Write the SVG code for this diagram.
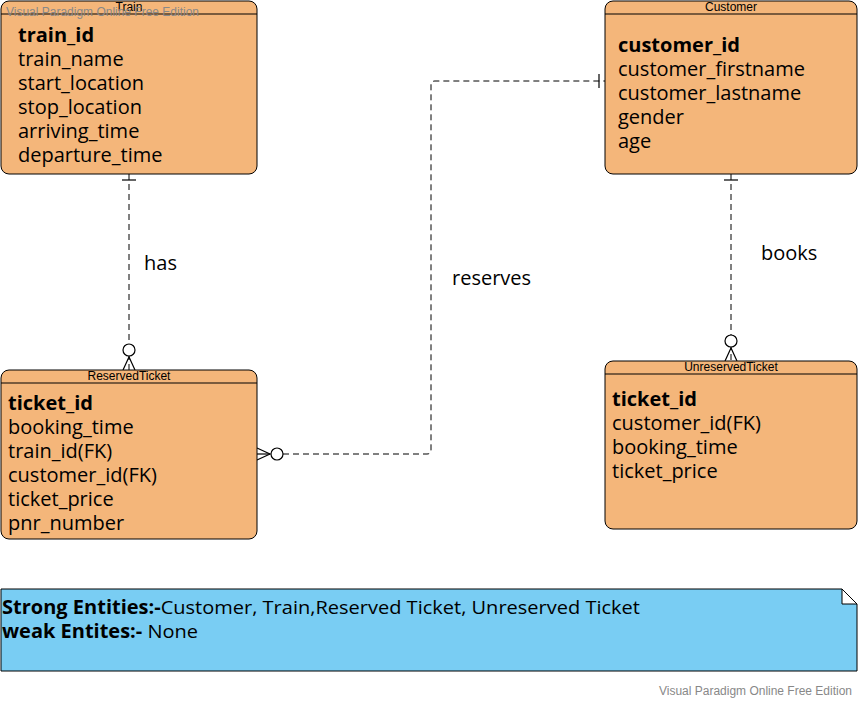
<svg xmlns="http://www.w3.org/2000/svg" width="858" height="701" viewBox="0 0 858 701">
<style>
.ent{fill:#f4b67a;stroke:#000;stroke-width:1}
.hdr{stroke:#000;stroke-width:1}
.ttl{font-family:"Liberation Sans",Arial,sans-serif;font-size:12px;fill:#000;text-anchor:middle}
.att{font-family:"Open Sans",sans-serif;font-size:20px;fill:#000}
.pk{font-weight:bold}
.lbl{font-family:"Open Sans",sans-serif;font-size:20px;fill:#000}
.wm{font-family:"Liberation Sans",Arial,sans-serif;font-size:12px;fill:#888}
.dash{fill:none;stroke:#000;stroke-width:1;stroke-dasharray:6 4}
.mk{fill:none;stroke:#000;stroke-width:1.2}
.mkc{fill:#fff;stroke:#000;stroke-width:1.2}
.note{fill:#79cdf3;stroke:#000;stroke-width:1}
.nt{font-family:"Open Sans",sans-serif;font-size:19px;fill:#000}
</style>
<g id="connectors">
  <path class="dash" d="M129 174 V370"/>
  <line class="mk" x1="122" y1="180" x2="136" y2="180"/>
  <path class="mk" d="M123 370 L129 357 L135 370"/>
  <circle class="mkc" cx="129" cy="350" r="6"/>

  <path class="dash" d="M731 174 V361"/>
  <line class="mk" x1="724" y1="180" x2="738" y2="180"/>
  <path class="mk" d="M725 361 L731 348 L737 361"/>
  <circle class="mkc" cx="731" cy="341" r="6"/>

  <path class="dash" d="M283 454 H427 Q431 454 431 450 V85 Q431 81 435 81 H605"/>
  <line class="mk" x1="599" y1="74" x2="599" y2="88"/>
  <path class="mk" d="M257 448 L270 454 L257 460"/>
  <line class="mk" x1="257" y1="454" x2="270" y2="454"/>
  <circle class="mkc" cx="277" cy="454" r="6"/>

  <text class="lbl" x="144" y="270">has</text>
  <text class="lbl" x="452" y="285">reserves</text>
  <text class="lbl" x="761" y="260">books</text>
</g>
<g id="Train">
  <rect class="ent" x="1" y="1" width="256" height="173" rx="8"/>
  <line class="hdr" x1="1" y1="14" x2="257" y2="14"/>
  <text class="ttl" x="129" y="11">Train</text>
  <text class="att pk" x="18" y="42">train_id</text>
  <text class="att" x="18" y="66">train_name</text>
  <text class="att" x="18" y="90">start_location</text>
  <text class="att" x="18" y="114">stop_location</text>
  <text class="att" x="18" y="138">arriving_time</text>
  <text class="att" x="18" y="162">departure_time</text>
</g>
<g id="Customer">
  <rect class="ent" x="605" y="1" width="252" height="173" rx="8"/>
  <line class="hdr" x1="605" y1="14" x2="857" y2="14"/>
  <text class="ttl" x="731" y="11">Customer</text>
  <text class="att pk" x="618" y="52">customer_id</text>
  <text class="att" x="618" y="76">customer_firstname</text>
  <text class="att" x="618" y="100">customer_lastname</text>
  <text class="att" x="618" y="124">gender</text>
  <text class="att" x="618" y="148">age</text>
</g>
<g id="ReservedTicket">
  <rect class="ent" x="1" y="370" width="256" height="169" rx="8"/>
  <line class="hdr" x1="1" y1="383" x2="257" y2="383"/>
  <text class="ttl" x="129" y="380">ReservedTicket</text>
  <text class="att pk" x="8" y="410">ticket_id</text>
  <text class="att" x="8" y="434">booking_time</text>
  <text class="att" x="8" y="458">train_id(FK)</text>
  <text class="att" x="8" y="482">customer_id(FK)</text>
  <text class="att" x="8" y="506">ticket_price</text>
  <text class="att" x="8" y="530">pnr_number</text>
</g>
<g id="UnreservedTicket">
  <rect class="ent" x="605" y="361" width="252" height="168" rx="8"/>
  <line class="hdr" x1="605" y1="374" x2="857" y2="374"/>
  <text class="ttl" x="731" y="371">UnreservedTicket</text>
  <text class="att pk" x="612" y="406">ticket_id</text>
  <text class="att" x="612" y="430">customer_id(FK)</text>
  <text class="att" x="612" y="454">booking_time</text>
  <text class="att" x="612" y="478">ticket_price</text>
</g>
<g id="Note">
  <path class="note" d="M1 589 H842 L857 604 V671 H1 Z"/>
  <path fill="#fff" stroke="#000" stroke-width="1" d="M842 589 L857 604 H842 Z"/>
  <text class="nt" x="2" y="614" textLength="638" lengthAdjust="spacingAndGlyphs"><tspan font-weight="bold">Strong Entities:-</tspan>Customer, Train,Reserved Ticket, Unreserved Ticket</text>
  <text class="nt" x="2" y="638" textLength="196" lengthAdjust="spacingAndGlyphs"><tspan font-weight="bold">weak Entites:-</tspan> None</text>
</g>
<text class="wm" x="6" y="16" textLength="193" lengthAdjust="spacingAndGlyphs">Visual Paradigm Online Free Edition</text>
<text class="wm" x="659" y="695" textLength="193" lengthAdjust="spacingAndGlyphs">Visual Paradigm Online Free Edition</text>
</svg>
